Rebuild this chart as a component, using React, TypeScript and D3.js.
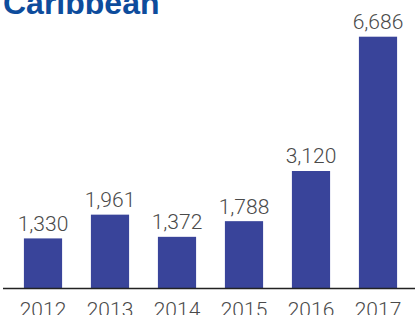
import React, { useEffect, useRef } from "react";
import * as d3 from "d3";

const years = ["2012", "2013", "2014", "2015", "2016", "2017"];
const values = [1330, 1961, 1372, 1788, 3120, 6686];
const title = "Caribbean";

const App = () => {
  const svgRef = useRef<SVGSVGElement>(null);

  useEffect(() => {
    const svg = d3.select(svgRef.current);
    svg.selectAll("*").remove();

    const width = 415;
    const baseline = 288.5;

    const x = d3
      .scaleBand()
      .domain(years)
      .range([9.5, 411.5])
      .paddingInner(0.43)
      .paddingOuter(0.215);
    const y = d3.scaleLinear().domain([0, 6686]).range([baseline, 36.7]);

    svg
      .append("text")
      .attr("x", 3)
      .attr("y", 13.5)
      .attr("font-family", "Liberation Sans, Arial, sans-serif")
      .attr("font-weight", "bold")
      .attr("font-size", 32)
      .attr("fill", "#0d4c9c")
      .text(title);

    svg
      .append("g")
      .selectAll("rect")
      .data(values)
      .join("rect")
      .attr("x", (d, i) => x(years[i])!)
      .attr("y", (d) => y(d))
      .attr("width", x.bandwidth())
      .attr("height", (d) => baseline - y(d))
      .attr("fill", "#39449a");

    svg
      .append("g")
      .selectAll("text")
      .data(values)
      .join("text")
      .attr("x", (d, i) => x(years[i])! + x.bandwidth() / 2)
      .attr("y", (d) => y(d) - 7.5)
      .attr("text-anchor", "middle")
      .attr("font-family", "Roboto, sans-serif")
      .attr("font-weight", 300)
      .attr("font-size", 21)
      .attr("fill", "#4a4a4a")
      .text((d) => d3.format(",")(d));

    const axis = svg
      .append("g")
      .attr("transform", `translate(0,${baseline})`)
      .call(d3.axisBottom(x).tickSize(0).tickPadding(8));
    axis
      .select(".domain")
      .attr("stroke", "#222")
      .attr("stroke-width", 1.5)
      .attr("d", `M3,0H${width}`);
    axis
      .selectAll("text")
      .attr("dy", null)
      .attr("y", 28)
      .attr("font-family", "Roboto, sans-serif")
      .attr("font-weight", 300)
      .attr("font-size", 21)
      .attr("fill", "#4a4a4a");
  }, []);

  return (
    <svg
      ref={svgRef}
      width={415}
      height={315}
      style={{ position: "absolute", left: 0, top: 0 }}
    ></svg>
  );
};

export default App;
